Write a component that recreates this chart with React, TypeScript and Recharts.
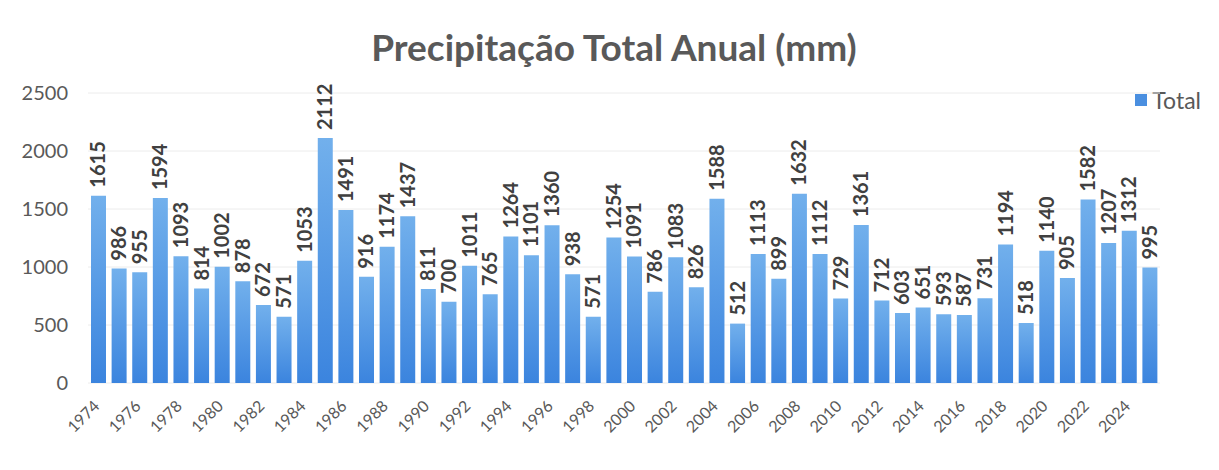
import { BarChart, Bar, XAxis, YAxis, CartesianGrid, LabelList } from "recharts";

const years = [
  "1974", "1975", "1976", "1977", "1978", "1979", "1980", "1981", "1982", "1983",
  "1984", "1985", "1986", "1987", "1988", "1989", "1990", "1991", "1992", "1993",
  "1994", "1995", "1996", "1997", "1998", "1999", "2000", "2001", "2002", "2003",
  "2004", "2005", "2006", "2007", "2008", "2009", "2010", "2011", "2012", "2013",
  "2014", "2015", "2016", "2017", "2018", "2019", "2020", "2021", "2022", "2023",
  "2024", "2025",
];

const totals = [
  1615, 986, 955, 1594, 1093, 814, 1002, 878, 672, 571,
  1053, 2112, 1491, 916, 1174, 1437, 811, 700, 1011, 765,
  1264, 1101, 1360, 938, 571, 1254, 1091, 786, 1083, 826,
  1588, 512, 1113, 899, 1632, 1112, 729, 1361, 712, 603,
  651, 593, 587, 731, 1194, 518, 1140, 905, 1582, 1207,
  1312, 995,
];

const yTicks = [0, 500, 1000, 1500, 2000, 2500];

const chartData = years.map((year, i) => ({ year, Total: totals[i] }));

const FONT = "Lato, 'Open Sans', sans-serif";

// rotated value label sitting just above each bar
function ValueLabel(props: any) {
  const { x, y, width, value } = props;
  const cx = x + width / 2 + 7;
  const cy = y - 8;
  return (
    <text
      x={cx}
      y={cy}
      transform={`rotate(-90, ${cx}, ${cy})`}
      textAnchor="start"
      fontFamily={FONT}
      fontWeight="bold"
      fontSize={20}
      fill="#404040"
    >
      {value}
    </text>
  );
}

function YearTick(props: any) {
  const { x, y, payload } = props;
  return (
    <g transform={`translate(${x - 2},${y + 12})`}>
      <text
        x={0}
        y={0}
        dy={6}
        transform="rotate(-45)"
        textAnchor="end"
        fontFamily={FONT}
        fontSize={16}
        fill="#595959"
      >
        {payload.value}
      </text>
    </g>
  );
}

export default function App() {
  return (
    <div style={{ position: "absolute", left: 0, top: 0, width: 1219, height: 470, background: "#fff" }}>
      <div
        style={{
          position: "absolute",
          top: 24,
          left: 0,
          width: 1228,
          textAlign: "center",
          fontFamily: FONT,
          fontWeight: "bold",
          fontSize: 37,
          color: "#595959",
        }}
      >
        Precipitação Total Anual (mm)
      </div>
      <div
        style={{
          position: "absolute",
          top: 86,
          right: 18,
          display: "flex",
          alignItems: "center",
          gap: 5,
          fontFamily: FONT,
          fontSize: 23,
          color: "#595959",
        }}
      >
        <span style={{ width: 12, height: 12, background: "#4a8fe0", display: "inline-block" }} />
        <span>Total</span>
      </div>
      <BarChart
        width={1219}
        height={470}
        data={chartData}
        margin={{ top: 93, right: 59, bottom: 0, left: 0 }}
      >
        <defs>
          <linearGradient id="barFill" x1="0" y1="0" x2="0" y2="1">
            <stop offset="0%" stopColor="#72b0ec" />
            <stop offset="100%" stopColor="#3b84de" />
          </linearGradient>
        </defs>
        <CartesianGrid vertical={false} stroke="#ececec" />
        <XAxis
          dataKey="year"
          interval={1}
          tick={<YearTick />}
          tickLine={false}
          axisLine={false}
          height={87}
        />
        <YAxis
          domain={[0, 2500]}
          ticks={yTicks}
          width={88}
          tickLine={false}
          axisLine={false}
          tickSize={0}
          tickMargin={20}
          tick={{ fontFamily: FONT, fontSize: 20, fill: "#595959" }}
        />
        <Bar dataKey="Total" fill="url(#barFill)" barSize={15} isAnimationActive={false}>
          <LabelList dataKey="Total" content={<ValueLabel />} />
        </Bar>
      </BarChart>
    </div>
  );
}
